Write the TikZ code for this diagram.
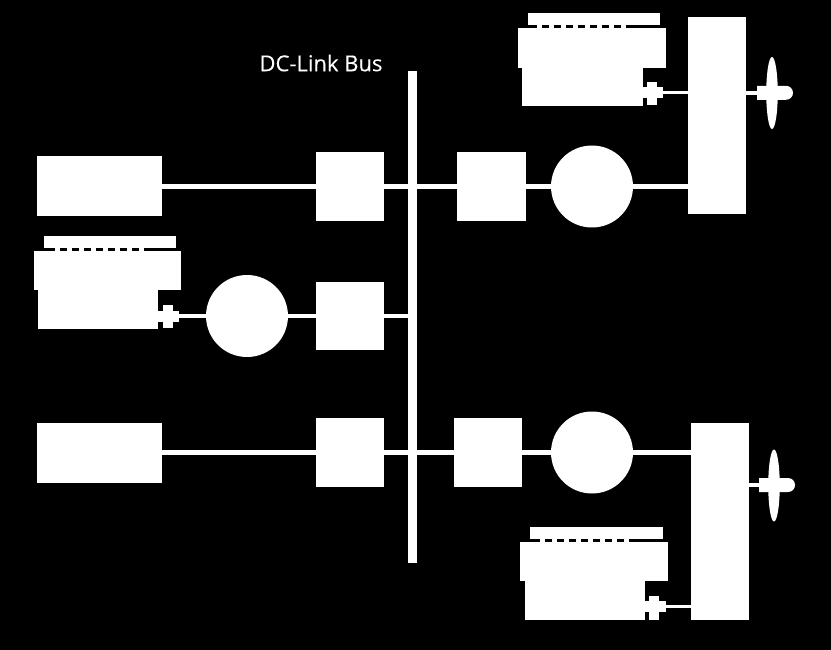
\documentclass[tikz,border=0pt]{standalone}
\usepackage{fontspec}
\setmainfont{Open Sans}
\newfontfamily\captionfont[FakeBold=0.25]{Open Sans}
\usetikzlibrary{shapes.geometric,shapes.misc}
\tikzset{
  x=1pt,y=-1pt,
  block/.style={fill=white,draw=none,inner sep=0pt,outer sep=0pt,rectangle,minimum width=#1},
  tall/.style={minimum height=#1},
  machine/.style={fill=white,draw=none,circle,inner sep=0pt,outer sep=0pt,minimum size=82pt},
  blade/.style={fill=white,draw=none,inner sep=0pt,outer sep=0pt,ellipse,minimum width=11.5pt,minimum height=72pt},
  hub/.style={fill=white,draw=none,inner sep=0pt,outer sep=0pt,rounded rectangle,rounded rectangle west arc=none,minimum width=36pt,minimum height=14pt},
  link/.style={draw=white,line width=4.8pt},
  shaft/.style={draw=white,line width=3.8pt},
  valves/.style={draw=white,line width=3.6pt,dash pattern=on 5pt off 7pt},
}
\begin{document}
\begin{tikzpicture}
\useasboundingbox (0,0) rectangle (831,650);
\fill[black] (0,0) rectangle (831,650);

% DC bus and its caption
\node[block=9pt,tall=492pt] (bus) at (412.5,317) {};
\node[text=white,font=\captionfont\fontsize{22pt}{26pt}\selectfont,inner sep=0pt] (buslabel) at (321,63) {DC-Link Bus};

% Upper branch
\node[block=125pt,tall=60pt] (srcA) at (99.5,186.5) {};
\node[block=68pt,tall=69pt] (convA) at (350,186.5) {};
\node[block=69pt,tall=69pt] (convB) at (491.5,186.5) {};
\node[machine] (motA) at (592,186.5) {};
\node[block=58pt,tall=197pt] (gearA) at (717,115.5) {};

% Middle branch
\node[block=68pt,tall=68pt] (convC) at (350,316) {};
\node[machine] (genC) at (247,316) {};

% Lower branch
\node[block=125pt,tall=60pt] (srcD) at (99.5,453) {};
\node[block=68pt,tall=69pt] (convD) at (350,452.5) {};
\node[block=68pt,tall=69pt] (convE) at (488,452.5) {};
\node[machine] (motD) at (592,452.5) {};
\node[block=58pt,tall=197pt] (gearD) at (720,521.5) {};

% Engine, upper right
\node[block=132pt,tall=12pt] (capA) at (594,18.7) {};
\node[block=148pt,tall=40pt] (headA) at (592,48) {};
\node[block=121pt,tall=38pt,anchor=north west] (crankA) at (522,68) {};
\node[block=10pt,tall=23pt] (flangeA) at (652,93.5) {};
\node[block=20pt,tall=11pt] (hubA) at (653,92.5) {};
\coordinate (dashA) at (537,26.5);
\coordinate (dashAend) at (626,26.5);

% Engine, left
\node[block=132pt,tall=12pt] (capC) at (110,242) {};
\node[block=147pt,tall=39pt] (headC) at (107.5,270.5) {};
\node[block=120pt,tall=39pt,anchor=north west] (crankC) at (38,290) {};
\node[block=10pt,tall=23pt] (flangeC) at (168,316.5) {};
\node[block=21pt,tall=11pt] (hubC) at (168.5,316) {};
\coordinate (dashC) at (55,249.5);
\coordinate (dashCend) at (144,249.5);

% Engine, lower right
\node[block=133pt,tall=12pt] (capD) at (596.5,533) {};
\node[block=148pt,tall=39pt] (headD) at (594,561.5) {};
\node[block=120pt,tall=39pt,anchor=north west] (crankD) at (525,581) {};
\node[block=10pt,tall=24pt] (flangeD) at (654,608) {};
\node[block=21pt,tall=11pt] (hubD) at (655.5,606.5) {};
\coordinate (dashD) at (540,540.5);
\coordinate (dashDend) at (629,540.5);

% Propellers
\node[blade] (bladeA) at (772,93) {};
\node[hub] (propA) at (775,92.8) {};
\node[blade] (bladeD) at (774,485.5) {};
\node[hub] (propD) at (777,485) {};

% Electrical connections
\draw[link] (srcA) -- (convA);
\draw[link] (convA) -- (convB);
\draw[link] (convB) -- (motA);
\draw[link] (motA) -- (motA -| gearA.west);
\draw[link] (genC) -- (convC);
\draw[link] (convC.east) -- (convC.east -| bus.west);
\draw[link] (srcD.east |- convD) -- (convD);
\draw[link] (convD) -- (convE);
\draw[link] (convE) -- (motD);
\draw[link] (motD) -- (motD -| gearD.west);

% Mechanical shafts
\draw[shaft] (hubA.east) -- (hubA.east -| gearA.west);
\draw[shaft] (propA.west -| gearA.east) -- (propA.west);
\draw[shaft] (hubC.east) -- (genC);
\draw[shaft] (hubD.east) -- (hubD.east -| gearD.west);
\draw[shaft] (propD.west -| gearD.east) -- (propD.west);

% Rocker-cover gaps
\draw[valves] (dashA) -- (dashAend);
\draw[valves] (dashC) -- (dashCend);
\draw[valves] (dashD) -- (dashDend);
\end{tikzpicture}
\end{document}
